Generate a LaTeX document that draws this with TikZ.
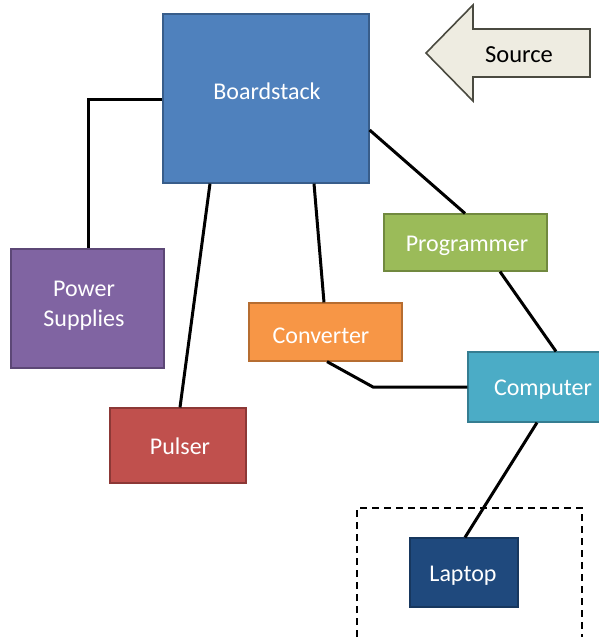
\documentclass[tikz,border=0pt]{standalone}
\usepackage{fontspec}
\setmainfont{Carlito}
\usetikzlibrary{calc}
\definecolor{bsfill}{HTML}{4F81BD}\definecolor{bsline}{HTML}{385D8A}
\definecolor{psfill}{HTML}{8064A2}\definecolor{psline}{HTML}{5C4776}
\definecolor{pufill}{HTML}{C0504D}\definecolor{puline}{HTML}{8C3836}
\definecolor{cvfill}{HTML}{F79646}\definecolor{cvline}{HTML}{B66D31}
\definecolor{prfill}{HTML}{9BBB59}\definecolor{prline}{HTML}{71893F}
\definecolor{cpfill}{HTML}{4BACC6}\definecolor{cpline}{HTML}{357D91}
\definecolor{lpfill}{HTML}{1F497D}\definecolor{lpline}{HTML}{17375E}
\definecolor{srcfill}{HTML}{EEECE1}\definecolor{srcline}{HTML}{4A4A40}
\tikzset{
  unit/.style={line width=1.2pt, inner sep=0pt},
  link/.style={line width=3pt, black},
  lbl/.style={text=white, font=\fontsize{24}{30}\selectfont, align=center, inner sep=0pt}
}
\begin{document}
\begin{tikzpicture}[x=1pt, y=-1pt]
\useasboundingbox (0,0) rectangle (598,638);
% unit boxes
\node[unit, fill=bsfill, draw=bsline, minimum width=206pt, minimum height=169pt] (bs) at (266,98.5) {};
\node[unit, fill=psfill, draw=psline, minimum width=153pt, minimum height=119pt] (ps) at (87.5,308.5) {};
\node[unit, fill=pufill, draw=puline, minimum width=136pt, minimum height=75pt] (pu) at (178,445.5) {};
\node[unit, fill=cvfill, draw=cvline, minimum width=153pt, minimum height=58pt] (cv) at (325.5,332) {};
\node[unit, fill=prfill, draw=prline, minimum width=163pt, minimum height=57pt] (pr) at (465.5,242.5) {};
\node[unit, fill=cpfill, draw=cpline, minimum width=134pt, minimum height=70pt] (cp) at (535,387) {};
\node[unit, fill=lpfill, draw=lpline, minimum width=108pt, minimum height=69pt] (lp) at (464,572.5) {};
% unit labels
\node[lbl] (bsl) at (267,91) {Boardstack};
\node[lbl] (psl) at (84,306) {Power\\Supplies};
\node[lbl] (pul) at (180,446) {Pulser};
\node[lbl] (cvl) at (321,336) {Converter};
\node[lbl] (prl) at (467,246) {Programmer};
\node[lbl] (cpl) at (543,390) {Computer};
\node[lbl] (lpl) at (463,576) {Laptop};
% dashed frame round the laptop
\draw[line width=1.8pt, dash pattern=on 7pt off 5pt] (357,637) -- (357,508) -- (582,508) -- (582,637);
% source arrow
\draw[fill=srcfill, draw=srcline, line width=1.6pt, line join=miter]
  (426,53) -- (473,5) -- (473,29) -- (590,29) -- (590,77) -- (473,77) -- (473,101) -- cycle;
\node[font=\fontsize{24.5}{28}\selectfont, text=black, inner sep=0pt] (src) at (519,55) {Source};
% links
\coordinate (psk) at (88,99);
\draw[link] (bs.west |- psk) -- (psk) -- (ps.north -| psk);
\draw[link] (bs.south -| 210,0) -- (pu.north -| 180,0);
\draw[link] (bs.south -| 314,0) -- (cv.north -| 324,0);
\draw[link] (bs.east |- 0,130) -- (pr.north -| 465,0);
\draw[link] (pr.south -| 500,0) -- (cp.north -| 556,0);
\coordinate (cvk) at (373,387);
\draw[link] (cv.south -| 327,0) -- (cvk) -- (cp.west |- cvk);
\draw[link] (cp.south -| 537,0) -- (lp.north -| 465,0);
\end{tikzpicture}
\end{document}
